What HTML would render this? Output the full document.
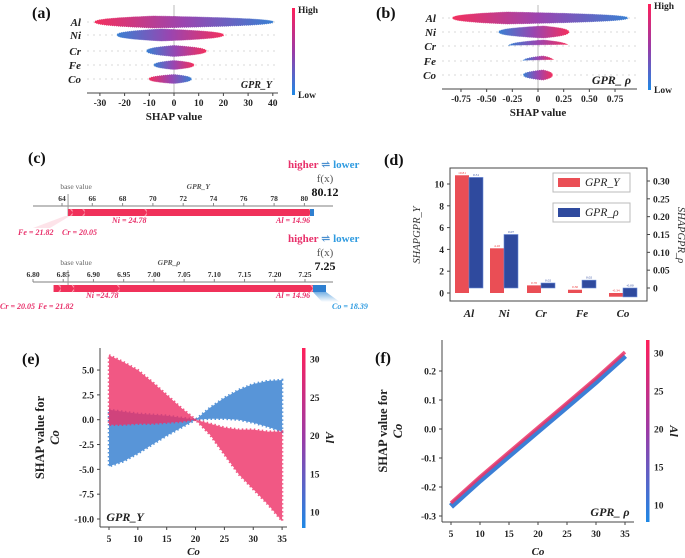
<!DOCTYPE html>
<html><head><meta charset="utf-8"><style>
body{margin:0;background:#fff}
svg{display:block}
svg text{font-family:"Liberation Serif","DejaVu Serif",serif}
.t{font-size:9.5px;font-weight:bold;fill:#222}
.lab{font-size:16px;font-weight:bold;fill:#111}
</style></head><body>
<svg id="s" width="685" height="558" viewBox="0 0 685 558" xmlns="http://www.w3.org/2000/svg">
<defs>
<linearGradient id="cbar" x1="0" y1="0" x2="0" y2="1"><stop offset="0" stop-color="#ff1f5a"/><stop offset="0.5" stop-color="#9b3aa6"/><stop offset="1" stop-color="#1e88e5"/></linearGradient>
<linearGradient id="rb" x1="0" y1="0" x2="1" y2="0"><stop offset="0" stop-color="#f2305f"/><stop offset="0.5" stop-color="#9a45b0"/><stop offset="1" stop-color="#3a7fd2"/></linearGradient>
<linearGradient id="br" x1="0" y1="0" x2="1" y2="0"><stop offset="0" stop-color="#3a7fd2"/><stop offset="0.5" stop-color="#9a45b0"/><stop offset="1" stop-color="#f2305f"/></linearGradient>
<linearGradient id="fade" x1="0" y1="0" x2="0" y2="1"><stop offset="0" stop-color="#3a8fd8" stop-opacity="0.7"/><stop offset="1" stop-color="#3a8fd8" stop-opacity="0"/></linearGradient>
</defs>
<g id="gA"></g>
<g id="gB"></g>
<g id="gC"></g>
<g id="gD"></g>
<g id="gE"></g>
<g id="gF"></g>
</svg>
<script>
// ---- data ----
const features = ["Al","Ni","Cr","Fe","Co"];
const aMin = [-32,-23,-11,-8,-10];
const aPeak = [-8,-5,0,0,0];
const aMax = [40,20,13,8,7];
const aDensity = [6,6,5.5,4.5,4.5];
const aLeftHigh = [true,false,false,false,true];
const aTicks = [-30,-20,-10,0,10,20,30,40];
const bMin = [-0.83,-0.38,-0.28,-0.14,-0.14];
const bPeak = [-0.3,0.05,0.05,0.05,0.05];
const bMax = [0.87,0.3,0.29,0.15,0.14];
const bDensity = [6,6,6,5,5];
const bLeftHigh = [true,false,false,false,false];
const bTicks = [-0.75,-0.5,-0.25,0,0.25,0.5,0.75];
const bTickLabels = ["-0.75","-0.50","-0.25","0","0.25","0.50","0.75"];
// panel c
const cTopTicks = [64,66,68,70,72,74,76,78,80];
const cTopBase = 64.4;
const cTopSegs = [["Fe",64.4,64.7],["Cr",64.7,65.5],["Ni",65.5,69.6],["Al",69.6,80.45]];
const cBotTicks = [6.80,6.85,6.90,6.95,7.00,7.05,7.10,7.15,7.20,7.25];
const cBotBase = 6.858;
const cBotSegs = [["Cr",6.834,6.846],["Fe",6.846,6.868],["Ni",6.868,6.943],["Al",6.943,7.263]];
// panel d
const dCats = ["Al","Ni","Cr","Fe","Co"];
const dY = [10.8,4.1,0.7,0.3,-0.34];
const dYLabels = ["10.81","4.10","0.70","0.30","-0.34"];
const dRho = [0.31,0.15,0.014,0.022,-0.025];
const dRhoLabels = ["0.31","0.07","0.02","0.02","-0.00"];
const dLeftTicks = [0,2,4,6,8,10];
const dRightTicks = [0,0.05,0.10,0.15,0.20,0.25,0.30];
const dRightLabels = ["0","0.05","0.10","0.15","0.20","0.25","0.30"];
// panel e
const eCo = [5,7.5,10,12.5,15,17.5,20,22.5,25,27.5,30,32.5,35];
const eRedUpper = [6.5,5.8,5.0,3.8,2.5,1.2,0,-0.4,-0.8,-1.0,-1.0,-1.2,-1.2];
const eRedLower = [-0.5,-0.5,-0.4,-0.4,-0.3,-0.2,0,-1.5,-3.5,-5.5,-7,-8.5,-10.2];
const eBlueUpper = [1.0,0.8,0.6,0.5,0.4,0.2,0,1.2,2.2,3.0,3.6,3.9,4.0];
const eBlueLower = [-4.7,-4.2,-3.4,-2.5,-1.6,-0.8,0,0.1,0.1,0,-0.3,-0.7,-1.2];
const eXTicks = [5,10,15,20,25,30,35];
const eYTicks = [5,2.5,0,-2.5,-5,-7.5,-10];
const eYLabels = ["5.0","2.5","0.0","-2.5","-5.0","-7.5","-10.0"];
const alTicks = [10,15,20,25,30];
// panel f
const fCo = [5,10,15,20,25,30,35];
const fShap = [-0.26,-0.17,-0.085,0,0.085,0.17,0.26];
const fYTicks = [0.2,0.1,0,-0.1,-0.2,-0.3];
const fYLabels = ["0.2","0.1","0.0","-0.1","-0.2","-0.3"];

const NS="http://www.w3.org/2000/svg";
function mk(tag,attrs,parent,txt){const e=document.createElementNS(NS,tag);for(const k in attrs)e.setAttribute(k,attrs[k]);if(txt!==undefined)e.textContent=txt;parent.appendChild(e);return e;}

// ---- beeswarm ----
function swarm(g,sx,x0,x1,rowsY,mins,peaks,maxs,dens,leftHigh,ticks,tickLabels,axisY,cbx,cbTop,cbBot,tag,panelLabel,plx){
  mk("text",{x:plx,y:18,class:"lab"},g,panelLabel);
  const zl=mk("line",{x1:sx(0),x2:sx(0),y1:5,y2:axisY,stroke:"#bbb","stroke-width":1},g);
  
  features.forEach((f,i)=>{
    const y=rowsY[i];
    const dl=mk("line",{x1:x0,x2:x1,y1:y,y2:y,stroke:"#ccc","stroke-dasharray":"2,4","stroke-width":0.8},g);
    
    const lb=mk("text",{x:x0-6,y:y+4,"text-anchor":"end","font-size":"11","font-style":"italic","font-weight":"bold",fill:"#222"},g,f);
    
    const a=mins[i],p=peaks[i],b=maxs[i],H=dens[i];let top=[],bot=[];
    for(let k=0;k<=60;k++){const v=a+(b-a)*k/60;let h;
      if(v<=p) h=H*Math.pow((v-a)/(p-a||1),0.4); else h=H*Math.pow((b-v)/(b-p||1),0.4);
      h=Math.max(h,0.8);top.push([sx(v),y-h]);bot.push([sx(v),y+h]);}
    const pts=top.concat(bot.reverse()).map(q=>q[0].toFixed(1)+","+q[1].toFixed(1)).join(" ");
    const pg=mk("polygon",{points:pts,fill:leftHigh[i]?"url(#rb)":"url(#br)",stroke:leftHigh[i]?"url(#rb)":"url(#br)","stroke-width":0.8,"stroke-dasharray":"1,1"},g);
    
  });
  const ax=mk("line",{x1:x0,x2:x1,y1:axisY,y2:axisY,stroke:"#444","stroke-width":1},g);
  
  ticks.forEach((t,i)=>{mk("line",{x1:sx(t),x2:sx(t),y1:axisY,y2:axisY+3,stroke:"#444"},g);
    const tl=mk("text",{x:sx(t),y:axisY+13,"text-anchor":"middle",class:"t"},g,tickLabels[i]);});
  const xt=mk("text",{x:sx(0),y:axisY+27,"text-anchor":"middle","font-size":"11","font-weight":"bold",fill:"#222"},g,"SHAP value");
  
  const cb=mk("rect",{x:cbx,y:cbTop,width:3,height:cbBot-cbTop,fill:"url(#cbar)"},g);
  mk("text",{x:cbx+6,y:cbTop+5,class:"t","font-size":"10"},g,"High");
  mk("text",{x:cbx+6,y:cbBot+3,class:"t","font-size":"10"},g,"Low");
  const mt=mk("text",{x:x1-6,y:axisY-5,"text-anchor":"end","font-size":tag.includes("ρ")?"12":"10","font-style":"italic","font-weight":"bold",fill:"#222"},g,tag);
  
}
const gA=document.getElementById("gA");
swarm(gA,v=>174+v*2.47,87,278,[22,35,51,65,79],aMin,aPeak,aMax,aDensity,aLeftHigh,aTicks,aTicks.map(String),93,292,8,95,"GPR_Y","(a)",32);
const gB=document.getElementById("gB");
swarm(gB,v=>538+v*102.7,442,637,[18,32,46,61,75],bMin,bPeak,bMax,bDensity,bLeftHigh,bTicks,bTickLabels,89,648,4,90,"GPR_ ρ","(b)",376);

// ---- panel c ----
const gC=document.getElementById("gC");
mk("text",{x:28,y:163,class:"lab"},gC,"(c)");
function force(g,sx,ticks,tickLbl,axisY,base,segs,negX,negW,barY,fxVal,hdrY,model,labels){
  const h=mk("text",{x:288,y:hdrY,"font-size":"11","font-weight":"bold"},g);
  mk("tspan",{fill:"#e8306a"},h,"higher ");mk("tspan",{fill:"#4a8fd0"},h,"⇌");mk("tspan",{fill:"#2f9be0"},h," lower");
  mk("text",{x:325,y:hdrY+14,"text-anchor":"middle","font-size":"11",fill:"#555"},g,"f(x)");
  mk("text",{x:325,y:hdrY+28,"text-anchor":"middle","font-size":"12","font-weight":"bold",fill:"#111"},g,fxVal);
  mk("line",{x1:33,x2:333,y1:axisY,y2:axisY,stroke:"#aaa","stroke-width":1.5},g);
  ticks.forEach((t,i)=>{mk("line",{x1:sx(t),x2:sx(t),y1:axisY-3,y2:axisY,stroke:"#888"},g);
    mk("text",{x:sx(t),y:axisY-5,"text-anchor":"middle","font-size":"7.5","font-weight":"bold",fill:"#333"},g,tickLbl[i]);});
  mk("line",{x1:sx(base),x2:sx(base),y1:axisY-12,y2:axisY+10,stroke:"#999"},g);
  mk("text",{x:sx(base)+8,y:axisY-17,"text-anchor":"middle","font-size":"7.5",fill:"#666"},g,"base value");
  mk("text",{x:(sx(ticks[4])+sx(ticks[5]))/2,y:axisY-17,"text-anchor":"middle","font-size":"7.5","font-style":"italic","font-weight":"bold",fill:"#555"},g,model);
  segs.forEach(s=>{const r=mk("rect",{x:sx(s[1]),y:barY,width:sx(s[2])-sx(s[1]),height:7,fill:"#f0315a"},g);
    
    mk("path",{d:`M${sx(s[2])-2},${barY} l3,3.5 l-3,3.5`,fill:"none",stroke:"#ff9fb0","stroke-width":1},g);});
  const n=mk("rect",{x:negX,y:barY,width:negW,height:7,fill:"#2f7fd0"},g);
  
  labels.forEach(l=>{const t=mk("text",{x:l[1],y:l[2],"font-size":"8","font-style":"italic","font-weight":"bold",fill:l[3]||"#e8306a"},g,l[0]);});
}
force(gC,v=>62+(v-64)*15.15,cTopTicks,cTopTicks.map(String),206,cTopBase,cTopSegs,310,4,209,"80.12",168,"GPR_Y",
 [["Ni = 24.78",112,223],["Al = 14.96",276,223],["Fe = 21.82",18,235],["Cr = 20.05",62,235]]);
mk("polygon",{points:"65,216 70,216 50,228 33,228",fill:"#fbd0da",opacity:0.6},gC);
force(gC,v=>33+(v-6.80)*604.4,cBotTicks,cBotTicks.map(v=>v.toFixed(2)),282,cBotBase,cBotSegs,313,13,285,"7.25",242,"GPR_ρ",
 [["Ni =24.78",86,298],["Al = 14.96",276,298],["Cr = 20.05",0,309],["Fe = 21.82",38,309],["Co = 18.39",332,309,"#2f9be0"]]);
mk("polygon",{points:"313,292 326,292 340,302 322,302",fill:"url(#fade)"},gC);

// ---- panel d ----
const gD=document.getElementById("gD");
mk("text",{x:384,y:165,class:"lab"},gD,"(d)");
const dx0=450,dx1=647,dyT=168,dyB=301;
const yL=v=>293-v*10.9, yR=v=>288-v*356.7;
const catX=[469,504,541,582,623];
mk("rect",{x:dx0,y:dyT,width:dx1-dx0,height:dyB-dyT,fill:"none",stroke:"#444"},gD);
dCats.forEach((c,i)=>{
  const x=catX[i];
  const r=mk("rect",{x:x-14,y:Math.min(yL(dY[i]),yL(0)),width:14,height:Math.abs(yL(dY[i])-yL(0)),fill:"#ea4e55"},gD);
  
  const b=mk("rect",{x:x,y:Math.min(yR(dRho[i]),yR(0)),width:14,height:Math.abs(yR(dRho[i])-yR(0)),fill:"#2f4a9e",stroke:"#6a8ad8","stroke-width":0.6},gD);
  
  mk("text",{x:x-7,y:Math.min(yL(dY[i]),yL(0))-1.5,"text-anchor":"middle","font-size":"3.5",fill:"#e33"},gD,dYLabels[i]);
  mk("text",{x:x+7,y:Math.min(yR(dRho[i]),yR(0))-1.5,"text-anchor":"middle","font-size":"3.5",fill:"#2f4a9e"},gD,dRhoLabels[i]);
  mk("text",{x:x,y:317,"text-anchor":"middle","font-size":"11","font-style":"italic","font-weight":"bold",fill:"#222"},gD,c);
});
dLeftTicks.forEach(t=>{mk("line",{x1:dx0-3,x2:dx0,y1:yL(t),y2:yL(t),stroke:"#444"},gD);
  mk("text",{x:dx0-6,y:yL(t)+3.5,"text-anchor":"end",class:"t","font-size":"10.5"},gD,String(t));});
dRightTicks.forEach((t,i)=>{mk("line",{x1:dx1,x2:dx1+3,y1:yR(t),y2:yR(t),stroke:"#444"},gD);
  mk("text",{x:dx1+6,y:yR(t)+3.5,class:"t","font-size":"10.5"},gD,dRightLabels[i]);});
mk("text",{x:420,y:235,transform:"rotate(-90 420 235)","text-anchor":"middle","font-size":"10.5","font-style":"italic",fill:"#333"},gD,"SHAPGPR_Y");
mk("text",{x:678,y:235,transform:"rotate(90 678 235)","text-anchor":"middle","font-size":"10.5","font-style":"italic",fill:"#333"},gD,"SHAPGPR_ρ");
[["GPR_Y","#ea4e55",173],["GPR_ρ","#2f4a9e",203]].forEach(l=>{
  const lg=mk("g",{},gD);
  mk("rect",{x:553,y:l[2],width:77,height:19,fill:"#fff",stroke:"#bbb"},lg);
  mk("rect",{x:558,y:l[2]+5,width:22,height:9,fill:l[1]},lg);
  mk("text",{x:585,y:l[2]+13,"font-size":"11.5","font-style":"italic",fill:"#222"},lg,l[0]);
});

// ---- dependence plots ----
function depAxes(g,x0,x1,yT,yB,sx,sy,xt,yt,ylb,cbx,cbT,cbB,cbs,plx,ply,pl,ylx,tag,tagX,tagY){
  mk("text",{x:plx,y:ply,class:"lab"},g,pl);
  mk("line",{x1:x0,x2:x0,y1:yT,y2:yB,stroke:"#444"},g);
  mk("line",{x1:x0,x2:x1,y1:yB,y2:yB,stroke:"#444"},g);
  xt.forEach(t=>{mk("line",{x1:sx(t),x2:sx(t),y1:yB,y2:yB+3,stroke:"#444"},g);
    mk("text",{x:sx(t),y:yB+15,"text-anchor":"middle",class:"t","font-size":"10.5"},g,String(t));});
  yt.forEach((t,i)=>{mk("line",{x1:x0-3,x2:x0,y1:sy(t),y2:sy(t),stroke:"#444"},g);
    mk("text",{x:x0-6,y:sy(t)+3.5,"text-anchor":"end",class:"t","font-size":"10.5"},g,ylb[i]);});
  mk("text",{x:(x0+x1)/2,y:555,"text-anchor":"middle","font-size":"11","font-style":"italic","font-weight":"bold",fill:"#222"},g,"Co");
  const cy=(yT+yB)/2;
  mk("text",{x:ylx,y:cy,transform:`rotate(-90 ${ylx} ${cy})`,"text-anchor":"middle","font-size":"12.5","font-weight":"bold",fill:"#222"},g,"SHAP value for");
  mk("text",{x:ylx+15,y:cy,transform:`rotate(-90 ${ylx+15} ${cy})`,"text-anchor":"middle","font-size":"12.5","font-style":"italic","font-weight":"bold",fill:"#222"},g,"Co");
  mk("rect",{x:cbx,y:cbT,width:3.5,height:cbB-cbT,fill:"url(#cbar)"},g);
  alTicks.forEach(t=>{mk("text",{x:cbx+8,y:cbs(t)+3.5,class:"t","font-size":"10.5"},g,String(t));});
  mk("text",{x:cbx+24,y:cy,transform:`rotate(90 ${cbx+24} ${cy})`,"text-anchor":"middle","font-size":"12","font-style":"italic","font-weight":"bold",fill:"#222"},g,"Al");
  mk("text",{x:tagX,y:tagY,"font-size":"12","font-style":"italic","font-weight":"bold",fill:"#222","text-anchor":"middle"},g,tag);
}
const gE=document.getElementById("gE");
const exs=v=>109+(v-5)*5.77, eys=v=>419.7-v*9.93;
function band(g,up,lo,col,name,op){
  const pts=eCo.map((c,i)=>exs(c).toFixed(1)+","+eys(up[i]).toFixed(1)).concat(eCo.map((c,i)=>exs(c).toFixed(1)+","+eys(lo[i]).toFixed(1)).reverse()).join(" ");
  const p=mk("polygon",{points:pts,fill:col,opacity:op,stroke:col,"stroke-width":2.5,"stroke-dasharray":"1.5,2.5"},g);
  
}
band(gE,eBlueUpper,eBlueLower,"#3b83d2","scatter-low-al",0.85);
band(gE,eRedUpper,eRedLower,"#ee2f66","scatter-high-al",0.8);
depAxes(gE,100,287,348,527,exs,eys,eXTicks,eYTicks,eYLabels,302,348,528,v=>512-(v-10)*7.65,22,364,"(e)",44,"GPR_Y",125,521);

const gF=document.getElementById("gF");
const fxs=v=>451+(v-5)*5.8, fys=v=>429-v*290;
const ln=fCo.map((c,i)=>[fxs(c),fys(fShap[i])]);
const l1=mk("polyline",{points:ln.map(p=>p[0].toFixed(1)+","+(p[1]+2).toFixed(1)).join(" "),fill:"none",stroke:"#3b7fd6","stroke-width":6},gF);

const l2=mk("polyline",{points:ln.map(p=>p[0].toFixed(1)+","+(p[1]-1.5).toFixed(1)).join(" "),fill:"none",stroke:"#ee3366","stroke-width":3.5,opacity:0.85},gF);

depAxes(gF,442,634,340,522,fxs,fys,eXTicks,fYTicks,fYLabels,646,340,522,v=>505-(v-10)*7.6,375,363,"(f)",387,"GPR_ ρ",610,516);
</script>
</body></html>
